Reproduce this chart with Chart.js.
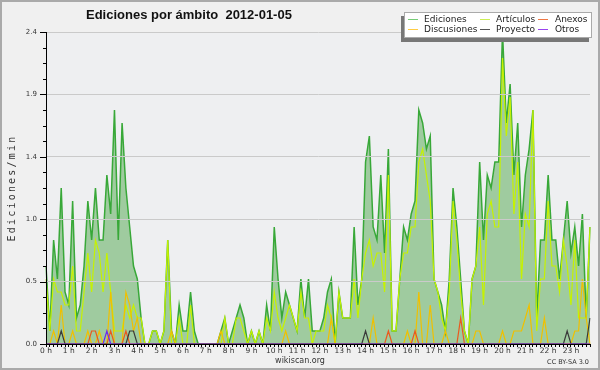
<!DOCTYPE html>
<html><head><meta charset="utf-8">
<script src="https://cdn.jsdelivr.net/npm/chart.js@4.4.1/dist/chart.umd.min.js"></script>
<style>html,body{margin:0;padding:0;background:#f0f0f0}#wrap{width:600px;height:370px;position:relative}</style>
</head><body><div id="wrap"><canvas id="c" width="600" height="370"></canvas></div>
<script>
const chartTitle = 'Ediciones por ámbito  2012-01-05';
const yAxisTitle = 'Ediciones/min';
const footerText = 'wikiscan.org';
const licenseText = 'CC BY-SA 3.0';
const hourLabels = ['0 h','1 h','2 h','3 h','4 h','5 h','6 h','7 h','8 h','9 h','10 h','11 h','12 h','13 h','14 h','15 h','16 h','17 h','18 h','19 h','20 h','21 h','22 h','23 h'];
const yTickValues = [0, 0.48, 0.96, 1.44, 1.92, 2.4];
const yTickLabels = ['0.0','0.5','1.0','1.4','1.9','2.4'];
const seriesNames = ['Ediciones','Artículos','Anexos','Discusiones','Proyecto','Otros'];

// 10-minute slots, 00:00 .. 23:50
const categories = [];
for (let h = 0; h < 24; h++) for (let m = 0; m < 60; m += 10) categories.push(String(h).padStart(2,'0') + ':' + String(m).padStart(2,'0'));

const ediciones = [
0.6,0.1,0.8,0.5,1.2,0.4,0.3,1.1,0.2,0.3,
0.6,1.1,0.8,1.2,0.8,0.8,1.3,1.0,1.8,0.8,
1.7,1.2,0.9,0.6,0.5,0.2,0,0,0.1,0.1,
0,0.1,0.8,0.1,0,0.3,0.1,0.1,0.4,0.1,
0,0,0,0,0,0,0.1,0.2,0,0.1,
0.2,0.3,0.2,0,0.1,0,0.1,0,0.3,0.1,
0.9,0.5,0.2,0.4,0.3,0.2,0.1,0.5,0.2,0.5,
0.1,0.1,0.1,0.2,0.4,0.5,0,0.4,0.2,0.2,
0.2,0.9,0.3,0.5,1.4,1.6,0.9,0.8,1.3,0.7,
1.5,0.1,0.1,0.5,0.9,0.8,1.0,1.1,1.8,1.7,
1.5,1.6,0.5,0.4,0.3,0.1,0.5,1.2,0.9,0.5,
0.1,0,0.5,0.6,1.4,0.8,1.3,1.2,1.4,1.4,
2.4,1.7,2.0,1.3,1.7,0.9,1.3,1.5,1.8,0.2,
0.8,0.8,1.3,0.8,0.8,0.5,0.8,1.1,0.7,0.9,
0.6,1.0,0.2,0.9];

const articulos = [
0.5,0.1,0.5,0.4,0.4,0.3,0.3,0.6,0.1,0.1,
0.4,0.7,0.4,0.8,0.7,0.4,0.7,0.4,0.1,0.1,
0.1,0.3,0.2,0.3,0.2,0.2,0,0,0.1,0.1,
0,0.1,0.8,0,0,0.2,0,0,0.3,0,
0,0,0,0,0,0,0,0.2,0,0,
0.2,0.2,0.1,0,0.1,0,0.1,0,0.2,0.1,
0.4,0.2,0.1,0.2,0.3,0.2,0.1,0.4,0.2,0.2,
0,0.1,0.1,0.1,0.3,0.2,0,0.4,0.2,0.2,
0.2,0.5,0.2,0.5,0.7,0.8,0.6,0.7,0.7,0.4,
1.3,0.1,0.1,0.5,0.7,0.7,0.9,0.9,1.4,1.5,
1.3,1.1,0.5,0.4,0.2,0.1,0.4,1.1,0.8,0.4,
0.1,0,0.5,0.6,0.9,0.3,1.0,1.1,0.9,0.9,
2.2,1.6,1.9,1.0,1.4,0.5,1.0,0.9,1.8,0.1,
0.5,0.5,1.1,0.6,0.6,0.4,0.8,0.6,0.3,0.8,
0.2,0.2,0.2,0.9];

const discusiones = [
0,0,0.1,0,0.3,0,0,0.1,0,0,
0,0.1,0,0,0.1,0,0,0.4,0,0,
0,0.4,0.3,0.1,0.2,0,0,0,0,0,
0,0,0,0.1,0,0,0,0,0,0,
0,0,0,0,0,0,0.1,0,0,0,
0,0,0,0,0,0,0,0,0,0,
0,0,0,0.1,0,0,0,0,0,0,
0,0,0,0,0,0.2,0,0,0,0,
0,0,0,0,0,0,0.2,0,0,0,
0,0,0,0,0,0.1,0,0,0.4,0,
0,0.3,0,0,0,0.1,0,0,0,0,
0,0,0,0.1,0.1,0,0,0,0,0,
0.1,0,0,0.1,0.1,0.1,0.2,0.3,0,0,
0,0.2,0,0,0,0,0,0,0,0.1,
0.1,0.5,0.2,0];

const anexos = [
0,0,0,0,0,0,0,0,0,0,
0,0,0.1,0.1,0,0,0,0.1,0,0,
0,0.1,0,0,0,0,0,0,0,0,
0,0,0,0,0,0,0,0,0,0,
0,0,0,0,0,0,0,0,0,0,
0,0,0,0,0,0,0,0,0,0,
0,0,0,0,0,0,0,0,0,0,
0,0,0,0,0,0,0,0,0,0,
0,0,0,0,0,0,0,0,0,0,
0.1,0,0,0,0,0,0,0.1,0,0,
0,0,0,0,0,0,0,0,0,0.2,
0,0,0,0,0,0,0,0,0,0,
0,0,0,0,0,0,0,0,0,0,
0,0,0,0,0,0,0,0,0,0,
0,0,0,0];

const proyecto = [
0,0,0,0,0.1,0,0,0,0,0,
0,0,0,0,0,0,0,0,0,0,
0,0,0.1,0.1,0,0,0,0,0,0,
0,0,0,0,0,0,0,0,0,0,
0,0,0,0,0,0,0,0,0,0,
0,0,0,0,0,0,0,0,0,0,
0,0,0,0,0,0,0,0,0,0,
0,0,0,0,0,0,0,0,0,0,
0,0,0,0,0.1,0,0,0,0,0,
0,0,0,0,0,0,0,0,0,0,
0,0,0,0,0,0,0,0,0,0,
0,0,0,0,0,0,0,0,0,0,
0,0,0,0,0,0,0,0,0,0,
0,0,0,0,0,0,0,0.1,0,0,
0,0,0,0.2];

const otros = [
0,0,0,0,0,0,0,0,0,0,
0,0,0,0,0,0,0.1,0,0,0,
0,0,0,0,0,0,0,0,0,0,
0,0,0,0,0,0,0,0,0,0,
0,0,0,0,0,0,0,0,0,0,
0,0,0,0,0,0,0,0,0,0,
0,0,0,0,0,0,0,0,0,0,
0,0,0,0,0,0,0,0,0,0,
0,0,0,0,0,0,0,0,0,0,
0,0,0,0,0,0,0,0,0,0,
0,0,0,0,0,0,0,0,0,0,
0,0,0,0,0,0,0,0,0,0,
0,0,0,0,0,0,0,0,0,0,
0,0,0,0,0,0,0,0,0,0,
0,0,0,0];

const colors = {
  'Ediciones':'#38a838', 'Artículos':'#c6f200', 'Anexos':'#ea5a1e',
  'Discusiones':'#f0c000', 'Proyecto':'#3a3a3a', 'Otros':'#6a2cf0'
};
const legendColors = {
  'Ediciones':'#77cc77', 'Artículos':'#ccee55', 'Anexos':'#ee7744',
  'Discusiones':'#ffcc44', 'Proyecto':'#555555', 'Otros':'#9944ee'
};

// minor+major y ticks: 4 minor steps per major step
const yAllTicks = [];
for (let k = 0; k < yTickValues.length - 1; k++) {
  const a = yTickValues[k], b = yTickValues[k+1];
  for (let j = 0; j < 4; j++) yAllTicks.push(a + (b - a) * j / 4);
}
yAllTicks.push(yTickValues[yTickValues.length - 1]);

const decor = {
  id: 'decor',
  beforeDraw(chart) {
    const c = chart.ctx, a = chart.chartArea;
    c.save();
    c.fillStyle = '#f0f0f0';
    c.fillRect(0, 0, chart.width, chart.height);
    c.fillStyle = '#eeeff1';
    c.fillRect(a.left, a.top, a.right - a.left, a.bottom - a.top);
    c.restore();
  },
  afterDraw(chart) {
    const c = chart.ctx, a = chart.chartArea, ys = chart.scales.y;
    c.save();
    // y tick marks
    c.strokeStyle = '#000'; c.lineWidth = 1; c.beginPath();
    const left = Math.round(a.left);
    yAllTicks.forEach((v, k) => {
      const y = Math.round(ys.getPixelForValue(v)) + 0.5;
      const len = (k % 4 === 0) ? 6 : 3;
      c.moveTo(left - len, y); c.lineTo(left, y);
    });
    c.stroke();
    // title
    c.fillStyle = '#111';
    c.font = 'bold 13px "Liberation Sans", Arial, sans-serif';
    c.textAlign = 'left'; c.textBaseline = 'alphabetic';
    c.fillText(chartTitle, 86, 19);
    // y axis title
    c.save();
    c.translate(12, 188);
    c.rotate(-Math.PI / 2);
    c.font = '10px "DejaVu Sans Mono", monospace';
    try { c.letterSpacing = '2.2px'; } catch (e) {}
    c.textAlign = 'center'; c.textBaseline = 'middle';
    c.fillStyle = '#333';
    c.fillText(yAxisTitle, 0, 0);
    c.restore();
    // footer
    c.fillStyle = '#333';
    c.font = '8px "DejaVu Sans", sans-serif';
    c.textAlign = 'center'; c.textBaseline = 'middle';
    c.fillText(footerText, 300, 361);
    c.font = '6.5px "DejaVu Sans", sans-serif';
    c.textAlign = 'right';
    c.fillText(licenseText, 589, 362);
    // legend
    const L = {x: 404, y: 12, w: 188, h: 26};
    c.fillStyle = '#777';
    c.fillRect(L.x - 3, L.y + 4, L.w, L.h);
    c.fillStyle = '#fff';
    c.fillRect(L.x, L.y, L.w, L.h);
    c.strokeStyle = '#aaa';
    c.strokeRect(L.x + 0.5, L.y + 0.5, L.w - 1, L.h - 1);
    const lineX = [408, 480, 538], textX = [424, 496, 555], rowY = [19.5, 29.5];
    c.font = '9px "DejaVu Sans", sans-serif';
    c.textAlign = 'left'; c.textBaseline = 'middle';
    seriesNames.forEach((name, i) => {
      const col = i % 3, row = Math.floor(i / 3);
      c.strokeStyle = legendColors[name]; c.lineWidth = 1;
      c.beginPath(); c.moveTo(lineX[col], rowY[row]); c.lineTo(lineX[col] + 10, rowY[row]); c.stroke();
      c.fillStyle = '#222';
      c.fillText(name, textX[col], rowY[row]);
    });
    // outer frame
    c.strokeStyle = '#aaaaaa'; c.lineWidth = 2;
    c.strokeRect(1, 1, chart.width - 2, chart.height - 2);
    c.restore();
  }
};

const seriesData = {
  'Ediciones': ediciones, 'Artículos': articulos, 'Anexos': anexos,
  'Discusiones': discusiones, 'Proyecto': proyecto, 'Otros': otros
};
const drawOrder = {'Ediciones':6, 'Artículos':5, 'Discusiones':4, 'Anexos':3, 'Proyecto':2, 'Otros':1};

const datasets = seriesNames.map(name => ({
  label: name,
  data: seriesData[name],
  borderColor: colors[name],
  backgroundColor: name === 'Ediciones' ? '#9fcb9f' : colors[name],
  fill: name === 'Ediciones' ? 'origin' : false,
  borderWidth: name === 'Ediciones' ? 1.5 : 1.2,
  pointRadius: 0,
  tension: 0,
  order: drawOrder[name]
}));

new Chart(document.getElementById('c'), {
  type: 'line',
  data: { labels: categories, datasets },
  plugins: [decor],
  options: {
    responsive: false,
    animation: false,
    devicePixelRatio: 1,
    layout: { padding: { top: 32, right: 10, bottom: 0, left: 0 } },
    plugins: { legend: { display: false }, title: { display: false }, tooltip: { enabled: false } },
    scales: {
      x: {
        type: 'category',
        offset: false,
        grid: { display: true, drawOnChartArea: false, drawTicks: true, tickLength: 3, color: '#000', z: 1 },
        border: { display: true, color: '#000', width: 1, z: 1 },
        ticks: {
          autoSkip: false, maxRotation: 0, minRotation: 0, padding: 0,
          color: '#333', font: { family: 'DejaVu Sans', size: 7.5 },
          callback: (v, i) => (i % 6 === 0 ? hourLabels[i / 6] : '')
        },
        afterFit: s => { s.height = 26; }
      },
      y: {
        type: 'linear',
        min: 0, max: 2.4,
        afterBuildTicks: s => { s.ticks = yAllTicks.map(v => ({ value: v })); },
        grid: {
          drawTicks: false, z: 1,
          color: ctx => (ctx.index % 4 === 0 && ctx.index > 0) ? '#cacaca' : 'rgba(0,0,0,0)'
        },
        border: { display: true, color: '#000', width: 1, z: 1 },
        ticks: {
          padding: 9, color: '#333', font: { family: 'DejaVu Sans', size: 7 },
          callback: (v, i) => (i % 4 === 0 ? yTickLabels[i / 4] : '')
        },
        afterFit: s => { s.width = 46; }
      }
    }
  }
});
</script>
</body></html>
